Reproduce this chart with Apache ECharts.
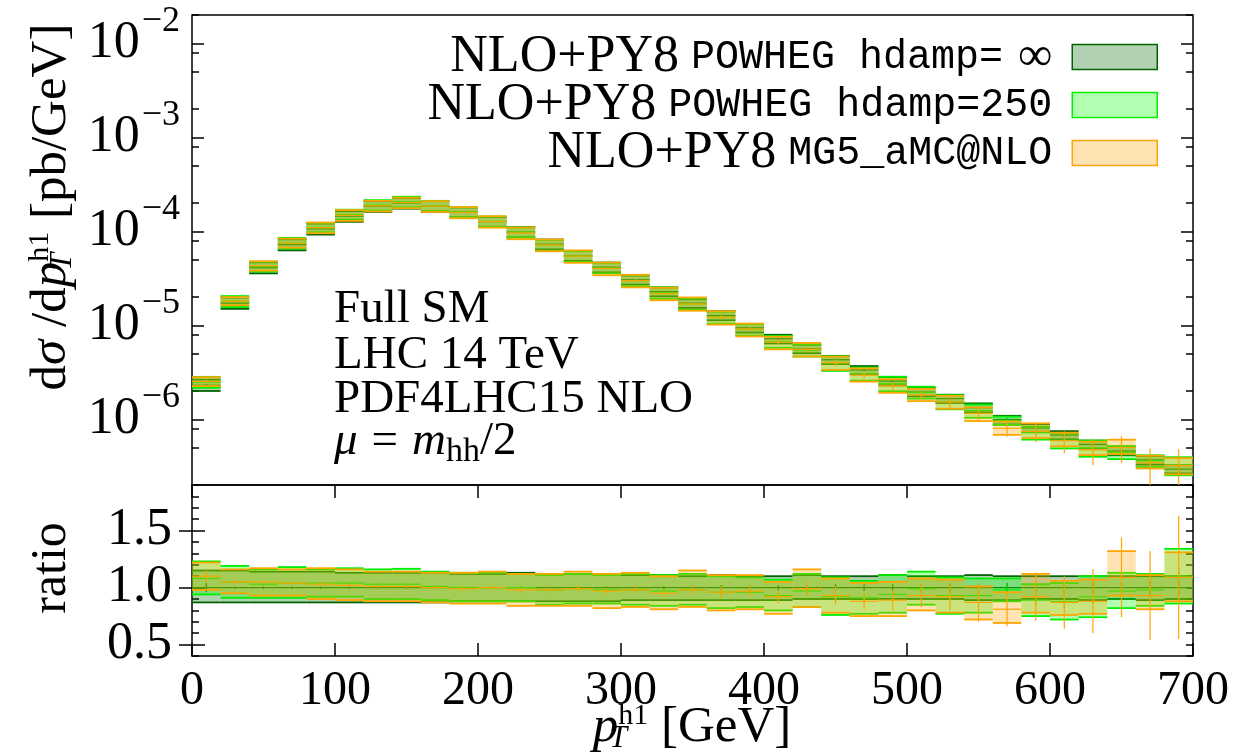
<!DOCTYPE html>
<html>
<head>
<meta charset="utf-8">
<script src="https://cdn.jsdelivr.net/npm/echarts@6/dist/echarts.min.js"></script>
<style>
  html, body { margin: 0; padding: 0; background: #fff; }
  #chart { width: 1252px; height: 754px; }
</style>
</head>
<body>
<div id="chart"></div>
<script>
// bins of 20 GeV, lower edges
const binLow = [0, 20, 40, 60, 80, 100, 120, 140, 160, 180, 200, 220, 240, 260, 280, 300, 320,
  340, 360, 380, 400, 420, 440, 460, 480, 500, 520, 540, 560, 580, 600, 620, 640, 660, 680]
const binWidth = 20

// central value of POWHEG hdamp=inf [pb/GeV]
const xsecInf = [2.3e-6, 1.72e-5, 4.1e-5, 7.2e-5, 1.06e-4, 1.45e-4, 1.85e-4, 2.0e-4, 1.85e-4,
  1.6e-4, 1.27e-4, 9.8e-5, 7.3e-5, 5.5e-5, 4.15e-5, 3.05e-5, 2.28e-5, 1.72e-5, 1.27e-5, 9.4e-6,
  7.2e-6, 5.6e-6, 4.3e-6, 3.35e-6, 2.55e-6, 1.95e-6, 1.66e-6, 1.33e-6, 9.9e-7, 8.1e-7, 6.8e-7,
  5.4e-7, 4.6e-7, 3.7e-7, 2.95e-7]

// everything below is relative to xsecInf (ratio panel)
const infLo = [0.87, 0.87, 0.87, 0.87, 0.87, 0.87, 0.87, 0.87, 0.87, 0.88, 0.88, 0.88, 0.88, 0.88,
  0.88, 0.89, 0.89, 0.89, 0.89, 0.89, 0.89, 0.90, 0.90, 0.90, 0.90, 0.90, 0.90, 0.89, 0.89, 0.90,
  0.90, 0.89, 0.90, 0.89, 0.90]
const infHi = [1.15, 1.15, 1.14, 1.14, 1.14, 1.13, 1.13, 1.13, 1.13, 1.12, 1.12, 1.13, 1.12, 1.12,
  1.12, 1.11, 1.11, 1.10, 1.11, 1.10, 1.10, 1.11, 1.10, 1.10, 1.11, 1.10, 1.10, 1.11, 1.10, 1.10,
  1.10, 1.10, 1.10, 1.10, 1.10]
const infErr = [0.04, 0.01, 0.01, 0.01, 0.01, 0.01, 0.01, 0.01, 0.01, 0.01, 0.01, 0.01, 0.01, 0.01,
  0.01, 0.015, 0.015, 0.02, 0.02, 0.02, 0.02, 0.02, 0.03, 0.03, 0.03, 0.03, 0.04, 0.04, 0.04, 0.04,
  0.05, 0.05, 0.05, 0.06, 0.06]

const h250Mid = [1.08, 1.05, 1.03, 1.04, 1.04, 1.04, 1.03, 1.03, 1.01, 1.00, 1.00, 1.00, 0.98, 0.99,
  0.98, 0.98, 0.97, 0.98, 0.96, 0.96, 0.93, 0.97, 0.92, 0.91, 0.94, 0.99, 0.93, 0.93, 0.98, 0.89,
  0.88, 0.92, 0.97, 0.98, 1.10]
const h250Lo = [0.94, 0.91, 0.91, 0.91, 0.92, 0.92, 0.90, 0.90, 0.89, 0.88, 0.88, 0.88, 0.85, 0.86,
  0.86, 0.85, 0.84, 0.85, 0.82, 0.83, 0.80, 0.83, 0.76, 0.77, 0.78, 0.85, 0.77, 0.78, 0.88, 0.75,
  0.72, 0.74, 0.82, 0.84, 0.86]
const h250Hi = [1.23, 1.19, 1.16, 1.18, 1.16, 1.17, 1.16, 1.165, 1.14, 1.13, 1.13, 1.12, 1.11, 1.12,
  1.11, 1.12, 1.11, 1.12, 1.10, 1.09, 1.07, 1.12, 1.09, 1.06, 1.11, 1.14, 1.09, 1.08, 1.08, 1.03,
  1.04, 1.10, 1.13, 1.12, 1.34]
const h250Err = [0.03, 0.01, 0.01, 0.01, 0.01, 0.01, 0.01, 0.01, 0.01, 0.01, 0.01, 0.01, 0.015,
  0.015, 0.015, 0.02, 0.02, 0.02, 0.02, 0.025, 0.025, 0.03, 0.03, 0.03, 0.035, 0.04, 0.04, 0.045,
  0.05, 0.05, 0.06, 0.06, 0.07, 0.07, 0.08]

const mgMid = [1.10, 1.05, 1.05, 1.04, 1.03, 1.02, 1.01, 1.01, 1.00, 0.99, 1.00, 0.98, 0.98, 0.99,
  0.97, 0.98, 0.95, 0.98, 0.96, 0.97, 0.92, 0.99, 0.93, 0.88, 0.89, 0.93, 0.92, 0.87, 0.81, 0.92,
  0.87, 0.88, 1.09, 0.93, 1.09]
const mgLo = [0.98, 0.95, 0.93, 0.93, 0.90, 0.89, 0.88, 0.88, 0.87, 0.86, 0.86, 0.84, 0.84, 0.84,
  0.82, 0.83, 0.81, 0.83, 0.80, 0.81, 0.77, 0.83, 0.78, 0.75, 0.75, 0.80, 0.78, 0.72, 0.69, 0.78,
  0.76, 0.77, 0.93, 0.81, 0.88]
const mgHi = [1.22, 1.16, 1.17, 1.16, 1.17, 1.16, 1.14, 1.14, 1.13, 1.13, 1.14, 1.12, 1.12, 1.14,
  1.12, 1.13, 1.10, 1.15, 1.11, 1.11, 1.05, 1.16, 1.08, 1.04, 1.05, 1.08, 1.07, 1.01, 0.96, 1.12,
  1.06, 1.07, 1.32, 1.11, 1.31]
const mgErr = [0.05, 0.02, 0.015, 0.015, 0.015, 0.015, 0.015, 0.015, 0.015, 0.02, 0.02, 0.02, 0.02,
  0.025, 0.025, 0.03, 0.03, 0.04, 0.05, 0.05, 0.06, 0.06, 0.08, 0.07, 0.09, 0.10, 0.12, 0.17, 0.15,
  0.21, 0.23, 0.28, 0.35, 0.39, 0.54]

// axis ticks
const xTicks = [0, 100, 200, 300, 400, 500, 600, 700]
const logExponents = [-7, -6, -5, -4, -3, -2]
const logLabelExponents = [-6, -5, -4, -3, -2]
const logMinorMantissa = [2, 5, 8]
const ratioLabels = [0.5, 1.0, 1.5]

const serif = '"Liberation Serif", "DejaVu Serif", serif'
const mono = '"Liberation Mono", "DejaVu Sans Mono", monospace'

const sources = [
  { name: 'inf', line: '#006400', fill: 'rgba(0,100,0,0.3)', mid: binLow.map(() => 1), lo: infLo, hi: infHi, err: infErr },
  { name: '250', line: '#00ee00', fill: 'rgba(0,255,0,0.3)', mid: h250Mid, lo: h250Lo, hi: h250Hi, err: h250Err },
  { name: 'mg', line: '#ffa500', fill: 'rgba(255,165,0,0.3)', mid: mgMid, lo: mgLo, hi: mgHi, err: mgErr }
]
const legendText = {
  inf: '{a|NLO+PY8}{b|POWHEG hdamp=}{c|∞}',
  '250': '{a|NLO+PY8}{b|POWHEG hdamp=250}',
  mg: '{a|NLO+PY8}{b|MG5_aMC@NLO}'
}

const logMinor = []
logExponents.forEach(e => logMinorMantissa.forEach(m => {
  const v = m * Math.pow(10, e)
  if (v >= 2e-7 && v <= 2e-2) logMinor.push(v)
}))
const ratioMinor = []
for (let k = 4; k <= 19; k++) ratioMinor.push(k / 10)

// one bin: filled band, edges, central line and stat error bar
function bandRenderer (line, fill) {
  return function (params, api) {
    const x0 = api.value(0)
    const x1 = api.value(1)
    const xc = (x0 + x1) / 2
    const lo = api.coord([x0, api.value(2)])
    const mid = api.coord([x0, api.value(3)])
    const hi = api.coord([x1, api.value(4)])
    const eLo = api.coord([xc, api.value(5)])
    const eHi = api.coord([xc, api.value(6)])
    const edge = { stroke: line, lineWidth: 1.8 }
    return {
      type: 'group',
      children: [
        { type: 'rect', shape: { x: lo[0], y: hi[1], width: hi[0] - lo[0], height: lo[1] - hi[1] }, style: { fill: fill } },
        { type: 'line', shape: { x1: lo[0], y1: hi[1], x2: hi[0], y2: hi[1] }, style: edge },
        { type: 'line', shape: { x1: lo[0], y1: lo[1], x2: hi[0], y2: lo[1] }, style: edge },
        { type: 'line', shape: { x1: lo[0], y1: mid[1], x2: hi[0], y2: mid[1] }, style: { stroke: line, lineWidth: 1.2 } },
        { type: 'line', shape: { x1: eLo[0], y1: eLo[1], x2: eHi[0], y2: eHi[1] }, style: { stroke: line, lineWidth: 1.2 } }
      ]
    }
  }
}

const series = []
sources.forEach(s => {
  const top = binLow.map((x, i) => {
    const c = xsecInf[i]
    return [x, x + binWidth, c * s.lo[i], c * s.mid[i], c * s.hi[i], c * (s.mid[i] - s.err[i]), c * (s.mid[i] + s.err[i])]
  })
  const ratio = binLow.map((x, i) => [x, x + binWidth, s.lo[i], s.mid[i], s.hi[i], s.mid[i] - s.err[i], s.mid[i] + s.err[i]])
  series.push({
    name: s.name, type: 'custom', xAxisIndex: 0, yAxisIndex: 0, clip: true, silent: true,
    itemStyle: { color: s.fill, borderColor: s.line },
    encode: { x: [0, 1], y: [2, 3, 4] },
    renderItem: bandRenderer(s.line, s.fill), data: top
  })
  series.push({
    name: s.name, type: 'custom', xAxisIndex: 1, yAxisIndex: 4, clip: true, silent: true,
    itemStyle: { color: s.fill, borderColor: s.line },
    encode: { x: [0, 1], y: [2, 3, 4] },
    renderItem: bandRenderer(s.line, s.fill), data: ratio
  })
})

const tickLine = { color: '#000', width: 1.5 }
function yAxisBase (grid, pos) {
  return {
    gridIndex: grid, position: pos,
    axisLine: { show: false }, splitLine: { show: false }, axisLabel: { show: false }
  }
}
const subSup = {
  n: { fontFamily: serif, fontSize: 51 },
  i: { fontFamily: serif, fontSize: 51, fontStyle: 'italic' },
  sub: { fontFamily: serif, fontSize: 32, fontStyle: 'italic', width: 0, padding: [22, 0, 0, 0] },
  sup: { fontFamily: serif, fontSize: 30, padding: [0, 0, 24, 0] }
}

const chart = echarts.init(document.getElementById('chart'))
const option = {
  animation: false,
  backgroundColor: '#fff',
  grid: [
    { left: 192, right: 59, top: 15, height: 470, show: true, borderColor: '#000', borderWidth: 1.5, backgroundColor: 'transparent' },
    { left: 192, right: 59, top: 485, height: 171, show: true, borderColor: '#000', borderWidth: 1.5, backgroundColor: 'transparent' }
  ],
  xAxis: [
    { type: 'value', gridIndex: 0, min: 0, max: 700, interval: 100, axisLine: { show: false }, axisTick: { show: false }, axisLabel: { show: false }, splitLine: { show: false } },
    {
      type: 'value', gridIndex: 1, min: 0, max: 700, interval: 100,
      axisLine: { show: false }, splitLine: { show: false },
      axisTick: { inside: true, length: 13, lineStyle: tickLine, customValues: xTicks },
      axisLabel: { customValues: xTicks, fontFamily: serif, fontSize: 48, color: '#000', margin: 11 }
    },
    {
      type: 'value', gridIndex: 1, position: 'top', min: 0, max: 700, interval: 100,
      axisLine: { show: false }, splitLine: { show: false }, axisLabel: { show: false },
      axisTick: { inside: true, length: 13, lineStyle: tickLine, customValues: xTicks }
    }
  ],
  yAxis: [
    Object.assign(yAxisBase(0, 'left'), {
      type: 'log', logBase: 10, min: 2e-7, max: 2e-2,
      axisTick: { inside: true, length: 12, lineStyle: tickLine, customValues: logLabelExponents.map(e => Math.pow(10, e)) },
      axisLabel: {
        show: true, margin: 12, color: '#000',
        customValues: logLabelExponents.map(e => Math.pow(10, e)),
        formatter: v => '{b|10}{e|−' + (-Math.round(Math.log10(v))) + '}',
        rich: {
          b: { fontFamily: serif, fontSize: 52, color: '#000' },
          e: { fontFamily: serif, fontSize: 36, color: '#000', padding: [0, 0, 44, 2] }
        }
      }
    }),
    Object.assign(yAxisBase(0, 'right'), {
      type: 'log', logBase: 10, min: 2e-7, max: 2e-2,
      axisTick: { inside: true, length: 12, lineStyle: tickLine, customValues: logLabelExponents.map(e => Math.pow(10, e)) }
    }),
    Object.assign(yAxisBase(0, 'left'), {
      type: 'log', logBase: 10, min: 2e-7, max: 2e-2,
      axisTick: { inside: true, length: 7, lineStyle: tickLine, customValues: logMinor }
    }),
    Object.assign(yAxisBase(0, 'right'), {
      type: 'log', logBase: 10, min: 2e-7, max: 2e-2,
      axisTick: { inside: true, length: 7, lineStyle: tickLine, customValues: logMinor }
    }),
    Object.assign(yAxisBase(1, 'left'), {
      type: 'value', min: 0.4, max: 1.9, interval: 0.1,
      axisTick: { inside: true, length: 13, lineStyle: tickLine, customValues: ratioLabels },
      axisLabel: {
        show: true, customValues: ratioLabels, margin: 20, color: '#000',
        fontFamily: serif, fontSize: 52, formatter: v => v.toFixed(1)
      }
    }),
    Object.assign(yAxisBase(1, 'right'), {
      type: 'value', min: 0.4, max: 1.9, interval: 0.1,
      axisTick: { inside: true, length: 13, lineStyle: tickLine, customValues: ratioLabels }
    }),
    Object.assign(yAxisBase(1, 'left'), {
      type: 'value', min: 0.4, max: 1.9, interval: 0.1,
      axisTick: { inside: true, length: 7, lineStyle: tickLine, customValues: ratioMinor }
    }),
    Object.assign(yAxisBase(1, 'right'), {
      type: 'value', min: 0.4, max: 1.9, interval: 0.1,
      axisTick: { inside: true, length: 7, lineStyle: tickLine, customValues: ratioMinor }
    })
  ],
  legend: {
    orient: 'vertical', right: 94, top: 31, padding: 0,
    align: 'right', icon: 'rect', itemWidth: 85, itemHeight: 25, itemGap: -4,
    selectedMode: false,
    data: sources.map(s => ({ name: s.name, itemStyle: { color: s.fill, borderColor: s.line, borderWidth: 1.5 } })),
    formatter: name => legendText[name],
    textStyle: {
      lineHeight: 25,
      rich: {
        a: { fontFamily: serif, fontSize: 52, color: '#000', lineHeight: 25 },
        b: { fontFamily: mono, fontSize: 40, color: '#000', lineHeight: 25, padding: [0, 15, 0, 12] },
        c: { fontFamily: serif, fontSize: 48, color: '#000', lineHeight: 25, padding: [0, 15, 0, 0] }
      }
    }
  },
  graphic: [
    { type: 'text', x: 334, y: 310, style: { text: 'Full SM', fontFamily: serif, fontSize: 47, fill: '#000', verticalAlign: 'middle' } },
    { type: 'text', x: 334, y: 356, style: { text: 'LHC 14 TeV', fontFamily: serif, fontSize: 47, fill: '#000', verticalAlign: 'middle' } },
    { type: 'text', x: 334, y: 400, style: { text: 'PDF4LHC15 NLO', fontFamily: serif, fontSize: 47, fill: '#000', verticalAlign: 'middle' } },
    {
      type: 'text', x: 334, y: 442,
      style: {
        text: '{i|μ}{e|=}{i|m}{s|hh}{n|/2}', fill: '#000', verticalAlign: 'middle',
        rich: {
          i: { fontFamily: serif, fontSize: 47, fontStyle: 'italic' },
          e: { fontFamily: serif, fontSize: 47, padding: [0, 14, 0, 14] },
          n: { fontFamily: serif, fontSize: 47 },
          s: { fontFamily: serif, fontSize: 34, padding: [20, 0, 0, 0] }
        }
      }
    },
    {
      type: 'text', x: 52, y: 207, rotation: Math.PI / 2,
      style: { text: '{n|d}{i|σ}{n| /d}{i|p}{sub|T}{sup|h1}{n| [pb/GeV]}', align: 'center', verticalAlign: 'middle', fill: '#000', rich: subSup }
    },
    {
      type: 'text', x: 52, y: 568, rotation: Math.PI / 2,
      style: { text: 'ratio', fontFamily: serif, fontSize: 50, fill: '#000', align: 'center', verticalAlign: 'middle' }
    },
    {
      type: 'text', x: 692, y: 728,
      style: { text: '{i|p}{sub|T}{sup|h1}{n| [GeV]}', align: 'center', verticalAlign: 'middle', fill: '#000', rich: subSup }
    }
  ],
  series: series
}
chart.setOption(option)
</script>
</body>
</html>
